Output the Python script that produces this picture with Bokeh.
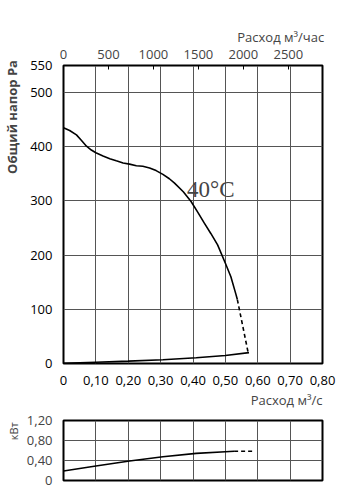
from bokeh.plotting import figure
from bokeh.layouts import column
from bokeh.models import Range1d, LinearAxis, FixedTicker, Title, Label
from bokeh.embed import file_html
from bokeh.resources import INLINE

# ---- data ----
flow_p = [0.0, 0.019, 0.04, 0.055, 0.071, 0.086, 0.10, 0.122, 0.143, 0.163, 0.184, 0.204,
          0.225, 0.245, 0.266, 0.286, 0.307, 0.327, 0.343, 0.37, 0.394, 0.415, 0.435,
          0.455, 0.476, 0.50, 0.517, 0.532, 0.537]
pressure = [435, 430, 422, 412, 401, 394, 389, 383, 378, 374, 370, 368,
            365, 364, 361, 356, 349, 341, 333, 317, 299, 279, 259,
            240, 219, 185, 160, 129, 118]
flow_p_dash = [0.537, 0.570]
pressure_dash = [118, 21]

flow_sys = [0.0, 0.10, 0.20, 0.307, 0.41, 0.50, 0.573]
pressure_sys = [0.5, 2.4, 4.3, 6.9, 10.6, 14.8, 20]

flow_kw = [0.0, 0.10, 0.204, 0.307, 0.41, 0.50, 0.527]
power_kw = [0.19, 0.29, 0.39, 0.476, 0.543, 0.576, 0.584]
flow_kw_dash = [0.527, 0.589]
power_kw_dash = [0.584, 0.584]

x_ticks = [0, 0.1, 0.2, 0.3, 0.4, 0.5, 0.6, 0.7, 0.8]
x_labels = ["0", "0,10", "0,20", "0,30", "0,40", "0,50", "0,60", "0,70", "0,80"]
y_ticks = [0, 100, 200, 300, 400, 500, 550]
top_ticks = [0, 500, 1000, 1500, 2000, 2500]
kw_ticks = [0, 0.4, 0.8, 1.2]
kw_labels = ["0", "0,40", "0,80", "1,20"]

FONT = "Open Sans"
GRID = "#555555"
EM = "\u2003"   # em spaces shift the centred axis labels toward the chart's corners
EN = "\u2002"

# ---- main chart ----
p = figure(width=347, height=410, x_range=Range1d(0, 0.8), y_range=Range1d(0, 550),
           title=None, output_backend="svg", toolbar_location=None,
           min_border_left=62, min_border_right=25, min_border_top=65, min_border_bottom=47)
p.outline_line_color = "black"
p.outline_line_width = 2

p.xaxis.ticker = FixedTicker(ticks=x_ticks)
p.xaxis.major_label_overrides = {t: l for t, l in zip(x_ticks, x_labels)}
p.yaxis.ticker = FixedTicker(ticks=y_ticks)
for ax in (p.xaxis, p.yaxis):
    ax.axis_line_color = None
    ax.major_tick_line_color = None
    ax.minor_tick_line_color = None
    ax.major_label_text_font = FONT
    ax.major_label_text_font_size = "13px"
    ax.major_label_text_color = "black"
p.xaxis.major_label_standoff = 6
p.yaxis.major_label_standoff = 5

p.yaxis.axis_label = EM * 15 + "Общий напор Ра"
p.yaxis.axis_label_text_font = FONT
p.yaxis.axis_label_text_font_size = "13px"
p.yaxis.axis_label_text_font_style = "bold"
p.yaxis.axis_label_standoff = 6

p.xgrid.ticker = FixedTicker(ticks=x_ticks)
p.ygrid.ticker = FixedTicker(ticks=[100, 200, 300, 400, 500])
for g in (p.xgrid, p.ygrid):
    g.grid_line_color = GRID
    g.grid_line_width = 1
    g.grid_line_alpha = 1

p.extra_x_ranges = {"mh": Range1d(0, 0.8 * 3600)}
top = LinearAxis(x_range_name="mh", ticker=FixedTicker(ticks=top_ticks))
top.axis_line_color = "black"
top.axis_line_width = 1
top.major_tick_in = 4
top.major_tick_out = 0
top.minor_tick_line_color = None
top.major_label_text_font = FONT
top.major_label_text_font_size = "13px"
top.major_label_standoff = 7
top.axis_label = EM * 13 + EN + "Расход м³/час"
top.axis_label_text_font = FONT
top.axis_label_text_font_size = "13px"
top.axis_label_text_font_style = "normal"
top.axis_label_standoff = 1
p.add_layout(top, "above")

p.add_layout(Title(text="Расход м³/с", align="right", text_font=FONT,
                   text_font_size="13px", text_font_style="normal", standoff=2), "below")

p.line(flow_p, pressure, line_color="black", line_width=1.6)
p.line(flow_p_dash, pressure_dash, line_color="black", line_width=1.6, line_dash="4 3")
p.line(flow_sys, pressure_sys, line_color="black", line_width=1.6)

p.add_layout(Label(x=0.455, y=321, text="40°C", text_font="Liberation Serif",
                   text_font_size="23px", text_align="center", text_baseline="alphabetic"))

# ---- power chart ----
q = figure(width=347, height=90, x_range=p.x_range, y_range=Range1d(0, 1.2),
           output_backend="svg", toolbar_location=None,
           min_border_left=62, min_border_right=25, min_border_top=10, min_border_bottom=20)
q.outline_line_color = "black"
q.outline_line_width = 2
q.xaxis.visible = False
q.yaxis.ticker = FixedTicker(ticks=kw_ticks)
q.yaxis.major_label_overrides = {t: l for t, l in zip(kw_ticks, kw_labels)}
q.yaxis.axis_line_color = None
q.yaxis.major_tick_line_color = None
q.yaxis.minor_tick_line_color = None
q.yaxis.major_label_text_font = FONT
q.yaxis.major_label_text_font_size = "13px"
q.yaxis.major_label_standoff = 5
q.yaxis.axis_label = EM * 3 + EN + "кВт"
q.yaxis.axis_label_text_font = FONT
q.yaxis.axis_label_text_font_size = "11px"
q.yaxis.axis_label_text_font_style = "normal"
q.yaxis.axis_label_standoff = 3
q.xgrid.ticker = FixedTicker(ticks=x_ticks)
q.ygrid.ticker = FixedTicker(ticks=[0.4, 0.8])
for g in (q.xgrid, q.ygrid):
    g.grid_line_color = GRID
    g.grid_line_width = 1
    g.grid_line_alpha = 1

q.line(flow_kw, power_kw, line_color="black", line_width=1.6)
q.line(flow_kw_dash, power_kw_dash, line_color="black", line_width=1.6, line_dash="4 3")

layout = column(p, q, spacing=0)
open("out.html", "w").write(file_html(layout, INLINE))
